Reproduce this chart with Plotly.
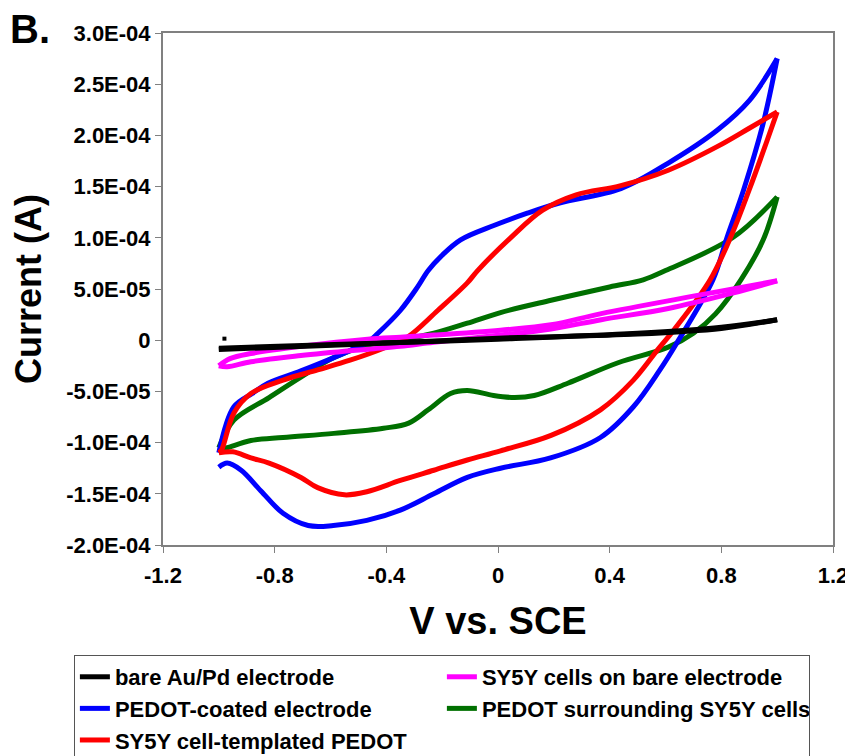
import plotly.graph_objects as go

# ---- data (V vs. SCE, current in A); each CV loop = forward (anodic) + reverse (cathodic) branch ----
bare_fwd_v = [-1.0, -0.5, 0.0, 0.5, 0.8, 1.0]
bare_fwd_i = [-7.8e-6, -3.5e-6, 1.0e-6, 6.8e-6, 1.27e-5, 2.0e-5]
bare_rev_v = [1.0, 0.8, 0.5, 0.0, -0.5, -1.0]
bare_rev_i = [2.0e-5, 1.15e-5, 6.0e-6, 2.0e-6, -4.0e-6, -9.0e-6]

cells_fwd_v = [-1.0, -0.96, -0.885, -0.706, -0.467, -0.35, -0.23, 0.009, 0.19, 0.37, 0.72, 1.0]
cells_fwd_i = [-2.5e-5, -1.8e-5, -1.3e-5, -6.0e-6, 1.0e-6, 3.0e-6, 5.0e-6, 9.8e-6, 1.5e-5, 2.6e-5, 4.4e-5, 5.8e-5]
cells_rev_v = [1.0, 0.84, 0.61, 0.37, 0.19, 0.009, -0.23, -0.35, -0.467, -0.706, -0.885, -0.97, -1.0]
cells_rev_i = [5.8e-5, 4.6e-5, 3.1e-5, 2.0e-5, 1.1e-5, 5.0e-6, -2.0e-6, -6.0e-6, -8.8e-6, -1.5e-5, -2.1e-5, -2.6e-5, -2.5e-5]

pedot_fwd_v = [-1.0, -0.946, -0.88, -0.824, -0.706, -0.588, -0.53, -0.467, -0.43, -0.35, -0.288, -0.25, -0.2,
               -0.134, -0.015, 0.105, 0.22, 0.44, 0.61, 0.785, 0.9, 1.0]
pedot_fwd_i = [-1.10e-4, -6.5e-5, -5.2e-5, -4.2e-5, -3.0e-5, -1.7e-5, -1.0e-5, -2.0e-6, 6.8e-6, 2.9e-5, 5.2e-5, 6.8e-5, 8.3e-5,
               9.8e-5, 1.12e-4, 1.24e-4, 1.34e-4, 1.48e-4, 1.73e-4, 2.05e-4, 2.34e-4, 2.75e-4]
pedot_rev_v = [1.0, 0.95, 0.88, 0.82, 0.77, 0.64, 0.58, 0.485, 0.367, 0.188, 0.009, -0.11, -0.23, -0.35, -0.47,
               -0.59, -0.68, -0.77, -0.85, -0.92, -0.97, -1.0]
pedot_rev_i = [2.75e-4, 2.12e-4, 1.47e-4, 1.0e-4, 5.9e-5, -3.0e-6, -2.9e-5, -6.5e-5, -9.5e-5, -1.15e-4, -1.25e-4,
               -1.34e-4, -1.50e-4, -1.66e-4, -1.76e-4, -1.81e-4, -1.81e-4, -1.69e-4, -1.47e-4, -1.27e-4, -1.20e-4, -1.24e-4]

surr_fwd_v = [-1.0, -0.946, -0.82, -0.706, -0.588, -0.467, -0.35, -0.23, -0.11, 0.009, 0.19, 0.4, 0.52, 0.6, 0.84, 1.0]
surr_fwd_i = [-1.05e-4, -7.8e-5, -5.6e-5, -3.6e-5, -1.7e-5, -4.9e-6, 0.0, 6.8e-6, 1.66e-5, 2.7e-5, 3.9e-5, 5.2e-5,
              5.9e-5, 6.8e-5, 1.0e-4, 1.40e-4]
surr_rev_v = [1.0, 0.95, 0.87, 0.78, 0.70, 0.61, 0.43, 0.25, 0.13, 0.06, -0.016, -0.11, -0.17, -0.25, -0.32, -0.41,
              -0.588, -0.77, -0.885, -0.97, -1.0]
surr_rev_i = [1.40e-4, 9.8e-5, 5.9e-5, 2.6e-5, 6.8e-6, -6.8e-6, -2.2e-5, -4.2e-5, -5.4e-5, -5.6e-5, -5.4e-5, -4.9e-5,
              -5.2e-5, -6.8e-5, -8.1e-5, -8.6e-5, -9.1e-5, -9.5e-5, -9.8e-5, -1.05e-4, -1.07e-4]

templ_fwd_v = [-1.0, -0.99, -0.946, -0.885, -0.77, -0.646, -0.53, -0.41, -0.324, -0.216, -0.11, -0.073, 0.045, 0.16,
               0.28, 0.44, 0.61, 0.785, 0.9, 1.0]
templ_fwd_i = [-1.10e-4, -1.07e-4, -7.1e-5, -5.2e-5, -3.9e-5, -2.9e-5, -1.95e-5, -7.8e-6, 3.0e-6, 2.9e-5, 5.6e-5, 6.8e-5,
               1.0e-4, 1.27e-4, 1.42e-4, 1.51e-4, 1.66e-4, 1.89e-4, 2.07e-4, 2.23e-4]
templ_rev_v = [1.0, 0.964, 0.9, 0.84, 0.76, 0.63, 0.57, 0.485, 0.367, 0.19, 0.009, -0.11, -0.23, -0.35, -0.47, -0.55,
               -0.646, -0.706, -0.82, -0.885, -0.95, -1.0]
templ_rev_i = [2.23e-4, 1.95e-4, 1.47e-4, 1.05e-4, 5.9e-5, 1.0e-5, -1.0e-5, -3.9e-5, -6.8e-5, -9.3e-5, -1.08e-4,
               -1.17e-4, -1.27e-4, -1.37e-4, -1.48e-4, -1.51e-4, -1.44e-4, -1.34e-4, -1.20e-4, -1.15e-4, -1.09e-4, -1.10e-4]

x_ticks = [-1.2, -0.8, -0.4, 0, 0.4, 0.8, 1.2]
x_tick_text = ["-1.2", "-0.8", "-0.4", "0", "0.4", "0.8", "1.2"]
y_ticks = [-2.0e-4, -1.5e-4, -1.0e-4, -5.0e-5, 0, 5.0e-5, 1.0e-4, 1.5e-4, 2.0e-4, 2.5e-4, 3.0e-4]
y_tick_text = ["-2.0E-04", "-1.5E-04", "-1.0E-04", "-5.0E-05", "0", "5.0E-05",
               "1.0E-04", "1.5E-04", "2.0E-04", "2.5E-04", "3.0E-04"]

FONT = "Liberation Sans, Arial, sans-serif"

# drawing order (back to front); legendrank gives legend order
series = [
    ("PEDOT surrounding SY5Y cells", surr_fwd_v, surr_fwd_i, surr_rev_v, surr_rev_i, "#007000", 4),
    ("PEDOT-coated electrode", pedot_fwd_v, pedot_fwd_i, pedot_rev_v, pedot_rev_i, "#0000ff", 3),
    ("SY5Y cell-templated PEDOT", templ_fwd_v, templ_fwd_i, templ_rev_v, templ_rev_i, "#ff0000", 5),
    ("SY5Y cells on bare electrode", cells_fwd_v, cells_fwd_i, cells_rev_v, cells_rev_i, "#ff00ff", 2),
    ("bare Au/Pd electrode", bare_fwd_v, bare_fwd_i, bare_rev_v, bare_rev_i, "#000000", 1),
]

fig = go.Figure()
for name, fv, fi, rv, ri, col, rank in series:
    for k, (vv, ii) in enumerate([(fv, fi), (rv, ri)]):
        fig.add_trace(go.Scatter(
            x=vv, y=ii, mode="lines", name=name, legendgroup=name,
            legendrank=rank, showlegend=(k == 0),
            line=dict(color=col, width=5, shape="spline", smoothing=1.0),
        ))

# bare electrode start-point speck
fig.add_trace(go.Scatter(x=[-0.98], y=[1.5e-6], mode="markers", showlegend=False,
                         marker=dict(color="black", size=4, symbol="square")))

# note: the page body adds an 8px offset, margins below compensate for it
fig.update_layout(
    width=853, height=756,
    margin=dict(l=155, r=28, t=25, b=219, autoexpand=False),
    paper_bgcolor="white", plot_bgcolor="white",
    font=dict(family=FONT, color="black", weight="bold"),
    showlegend=True,
    legend=dict(
        orientation="h", x=-0.133, xanchor="left", y=-0.2148, yanchor="top",
        entrywidth=322, entrywidthmode="pixels", itemwidth=30,
        bordercolor="#555555", borderwidth=1, bgcolor="white",
        font=dict(size=22, family=FONT, weight="bold"),
        traceorder="normal",
    ),
    xaxis=dict(
        range=[-1.2, 1.2], tickvals=x_ticks, ticktext=x_tick_text,
        showgrid=False, zeroline=False,
        showline=True, linecolor="#808080", linewidth=2, mirror=True,
        ticks="outside", ticklen=6, tickcolor="#808080", tickwidth=1,
        ticklabelstandoff=4,
        tickfont=dict(size=22, family=FONT, weight="bold"),
        title=dict(text="V vs. SCE", font=dict(size=38, family=FONT, weight="bold"), standoff=20),
    ),
    yaxis=dict(
        range=[-2.0e-4, 3.0e-4], tickvals=y_ticks, ticktext=y_tick_text,
        showgrid=False, zeroline=False,
        showline=True, linecolor="#808080", linewidth=2, mirror=True,
        ticks="outside", ticklen=6, tickcolor="#808080", tickwidth=1,
        tickfont=dict(size=22, family=FONT, weight="bold"),
        title=dict(text="Current (A)", font=dict(size=36, family=FONT, weight="bold"), standoff=14),
    ),
    annotations=[dict(
        text="B.", xref="paper", yref="paper", x=-0.232, y=1.054,
        xanchor="left", yanchor="top", showarrow=False,
        font=dict(size=40, family=FONT, weight="bold"),
    )],
)

fig.write_html("out.html")
